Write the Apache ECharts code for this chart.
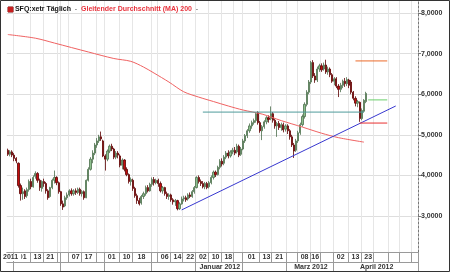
<!DOCTYPE html>
<html><head><meta charset="utf-8">
<script src="https://cdn.jsdelivr.net/npm/echarts@6/dist/echarts.min.js"></script>
<style>html,body{margin:0;padding:0;background:#fff}#c{width:450px;height:272px}</style>
</head><body><div id="c"></div>
<script>
// trading days per month (Xetra)
const monthDays = [
  ['2011-08', [29,30,31]],
  ['2011-09', [1,2,5,6,7,8,9,12,13,14,15,16,19,20,21,22,23,26,27,28,29,30]],
  ['2011-10', [3,4,5,6,7,10,11,12,13,14,17,18,19,20,21,24,25,26,27,28,31]],
  ['2011-11', [1,2,3,4,7,8,9,10,11,14,15,16,17,18,21,22,23,24,25,28,29,30]],
  ['2011-12', [1,2,5,6,7,8,9,12,13,14,15,16,19,20,21,22,23,27,28,29,30]],
  ['2012-01', [2,3,4,5,6,9,10,11,12,13,16,17,18,19,20,23,24,25,26,27,30,31]],
  ['2012-02', [1,2,3,6,7,8,9,10,13,14,15,16,17,20,21,22,23,24,27,28,29]],
  ['2012-03', [1,2,5,6,7,8,9,12,13,14,15,16,19,20,21,22,23,26,27,28,29,30]],
  ['2012-04', [2,3,4,5,10,11,12,13,16,17,18,19,20,23,24,25,26,27,30]],
  ['2012-05', [2,3,4,7,8,9,10,11,14,15,16,17,18,21,22,23,24,25,28,29,30]]
];
const dates = [];
monthDays.forEach(([m, ds]) => ds.forEach(d => dates.push(m + '-' + String(d).padStart(2, '0'))));

// candles: [open, close, low, high]
const candles = [
[4.62,4.52,4.48,4.66],[4.52,4.58,4.47,4.62],[4.58,4.50,4.45,4.62],[4.50,4.42,4.35,4.55],[4.42,4.36,4.30,4.45],
[4.30,3.75,3.70,4.32],[3.75,3.55,3.38,3.80],[3.55,3.60,3.40,3.70],[3.62,3.48,3.42,3.66],[3.50,3.65,3.45,3.70],
[3.65,3.85,3.60,3.90],[3.85,3.72,3.66,3.92],[3.72,3.95,3.70,4.00],[3.98,4.05,3.92,4.10],[4.05,3.88,3.82,4.08],
[3.88,3.70,3.62,3.92],[3.68,3.85,3.60,3.88],[3.85,3.80,3.72,3.92],[3.80,3.62,3.55,3.84],[3.62,3.45,3.40,3.66],
[3.48,3.70,3.45,3.72],[3.70,3.88,3.66,3.92],[3.88,3.95,3.80,4.12],[3.95,3.82,3.76,3.98],[3.82,3.60,3.55,3.85],
[3.60,3.30,3.25,3.62],[3.30,3.22,3.15,3.38],[3.25,3.45,3.22,3.50],[3.45,3.52,3.40,3.58],[3.52,3.62,3.48,3.66],
[3.62,3.55,3.50,3.68],[3.55,3.62,3.50,3.66],[3.62,3.58,3.52,3.68],[3.58,3.66,3.54,3.70],[3.66,3.55,3.50,3.70],
[3.55,3.60,3.48,3.64],[3.60,3.45,3.40,3.63],[3.45,3.88,3.44,3.90],[3.88,4.15,3.85,4.20],[4.15,4.40,4.12,4.45],
[4.40,4.55,4.30,4.62],[4.55,4.75,4.50,4.80],[4.75,4.85,4.68,4.92],[4.85,4.95,4.80,5.00],[4.95,4.90,4.85,5.08],
[4.85,4.48,4.45,4.88],[4.48,4.40,4.12,4.52],[4.40,4.60,4.35,4.64],[4.60,4.72,4.55,4.76],[4.72,4.65,4.60,4.78],
[4.65,4.45,4.40,4.68],[4.45,4.55,4.40,4.60],[4.55,4.50,4.42,4.60],[4.48,4.25,4.20,4.52],[4.25,4.38,4.15,4.42],
[4.38,4.15,4.10,4.40],[4.15,4.02,3.98,4.20],[4.02,3.85,3.80,4.05],[3.85,3.90,3.75,3.95],[3.88,3.68,3.62,3.92],
[3.68,3.50,3.45,3.72],[3.50,3.38,3.30,3.55],[3.38,3.30,3.26,3.45],[3.32,3.48,3.28,3.52],[3.48,3.55,3.42,3.60],
[3.55,3.70,3.50,3.75],[3.70,3.62,3.58,3.76],[3.62,3.78,3.60,3.82],[3.78,3.90,3.72,3.95],[3.90,3.82,3.75,3.96],
[3.82,3.88,3.78,3.92],[3.88,3.80,3.72,3.92],[3.80,3.62,3.58,3.85],[3.62,3.70,3.55,3.74],[3.70,3.55,3.50,3.72],
[3.55,3.48,3.42,3.60],[3.48,3.52,3.40,3.56],[3.52,3.40,3.35,3.55],[3.40,3.35,3.28,3.44],[3.35,3.38,3.25,3.42],
[3.38,3.18,3.14,3.40],[3.18,3.30,3.15,3.34],[3.30,3.42,3.28,3.48],[3.42,3.45,3.36,3.50],[3.45,3.40,3.35,3.50],
[3.42,3.52,3.38,3.56],[3.52,3.48,3.44,3.58],[3.48,3.60,3.45,3.64],[3.60,3.70,3.55,3.74],[3.70,3.95,3.68,3.98],
[3.95,3.85,3.80,4.00],[3.85,3.80,3.74,3.90],[3.80,3.72,3.68,3.86],[3.72,3.80,3.66,3.84],[3.80,3.70,3.66,3.84],
[3.72,3.82,3.68,3.86],[3.82,3.95,3.78,4.00],[3.95,4.08,3.90,4.12],[4.08,4.02,3.96,4.12],[4.02,4.20,4.00,4.24],
[4.20,4.35,4.15,4.40],[4.35,4.28,4.22,4.42],[4.30,4.45,4.25,4.50],[4.45,4.55,4.40,4.60],[4.55,4.48,4.42,4.62],
[4.48,4.58,4.44,4.62],[4.58,4.62,4.52,4.68],[4.62,4.55,4.50,4.70],[4.58,4.72,4.54,4.78],[4.72,4.50,4.45,4.76],
[4.52,4.65,4.48,4.70],[4.65,4.85,4.62,4.90],[4.85,4.98,4.80,5.02],[4.98,5.10,4.92,5.14],[5.10,5.22,5.05,5.28],
[5.22,5.30,5.15,5.35],[5.30,5.35,5.25,5.40],[5.35,5.52,5.30,5.56],[5.55,5.30,5.25,5.58],[5.30,5.10,5.05,5.34],
[5.10,5.20,4.87,5.24],[5.20,5.32,5.15,5.36],[5.32,5.42,5.26,5.46],[5.42,5.38,5.30,5.48],[5.40,5.52,5.36,5.70],
[5.52,5.36,5.30,5.56],[5.36,5.22,5.15,5.40],[5.22,5.28,4.95,5.32],[5.28,5.18,5.12,5.34],[5.18,5.25,5.10,5.30],
[5.25,5.12,5.06,5.30],[5.14,5.22,5.08,5.26],[5.22,5.10,5.02,5.26],[5.10,4.95,4.88,5.14],[4.95,4.75,4.70,5.00],
[4.75,4.60,4.43,4.80],[4.62,4.85,4.58,4.90],[4.85,5.05,4.80,5.10],[5.05,5.25,5.00,5.30],[5.25,5.45,5.20,5.50],
[5.45,5.75,5.40,5.80],[5.75,6.05,5.70,6.10],[6.05,6.30,6.00,6.35],[6.30,6.78,6.25,6.82],[6.78,6.45,6.40,6.84],
[6.45,6.35,6.28,6.52],[6.35,6.62,6.30,6.68],[6.62,6.70,6.55,6.75],[6.70,6.60,6.55,6.76],[6.62,6.72,6.58,6.78],
[6.72,6.55,6.50,6.85],[6.55,6.62,6.48,6.68],[6.62,6.48,6.42,6.66],[6.48,6.32,6.28,6.52],[6.32,6.38,6.22,6.42],
[6.38,6.20,6.15,6.42],[6.20,6.12,5.93,6.25],[6.12,6.22,6.05,6.28],[6.22,6.32,6.15,6.36],[6.32,6.26,6.18,6.40],
[6.26,6.36,6.20,6.42],[6.35,6.22,6.15,6.38],[6.30,6.05,6.00,6.35],[6.05,5.90,5.85,6.08],[5.90,5.78,5.70,5.95],
[5.78,5.82,5.68,5.86],[5.80,5.40,5.32,5.82],[5.40,5.60,5.36,5.65],[5.58,5.85,5.55,5.88],[5.82,6.02,5.78,6.06]
];

// 200-day moving average readings [date, value]
const maPoints = [
 ['2011-08-29',7.47],['2011-09-15',7.38],['2011-09-28',7.26],['2011-10-20',7.04],['2011-11-07',6.88],
 ['2011-11-17',6.81],['2011-11-25',6.67],['2011-12-02',6.52],['2011-12-13',6.30],['2011-12-22',6.06],
 ['2012-01-03',5.93],['2012-01-12',5.82],['2012-01-23',5.71],['2012-02-01',5.61],['2012-02-14',5.51],
 ['2012-02-27',5.35],['2012-03-12',5.19],['2012-03-23',5.04],['2012-04-04',4.93],['2012-04-24',4.82]
];
// drawn lines [[date, value],[date, value]]
const resistanceLine = [['2012-01-05',5.56],['2012-04-24',5.56]];
const trendLine = [['2011-12-21',3.15],['2012-05-16',5.71]];
const orangeLine = [['2012-04-18',6.82],['2012-05-10',6.82]];
const greenLine = [['2012-04-26',5.86],['2012-05-10',5.86]];
const redLine = [['2012-04-20',5.29],['2012-05-10',5.29]];

// axis tick labels
const yTicks = [3,4,5,6,7,8];
const dayTickDates = ['2011-09-01','2011-09-13','2011-09-21','2011-09-30','2011-10-03','2011-10-07','2011-10-17','2011-10-26',
 '2011-11-01','2011-11-10','2011-11-18','2011-12-01','2011-12-06','2011-12-14','2011-12-22',
 '2012-01-02','2012-01-10','2012-01-18','2012-01-26','2012-02-01','2012-02-13','2012-02-21',
 '2012-03-01','2012-03-08','2012-03-16','2012-03-23','2012-04-02','2012-04-13','2012-04-23',
 '2012-05-02','2012-05-11','2012-05-18','2012-05-28'];
const dayLabelDates = ['2011-09-01','2011-09-13','2011-09-21','2011-10-07','2011-10-17','2011-11-01','2011-11-10','2011-11-18',
 '2011-12-06','2011-12-14','2011-12-22','2012-01-02','2012-01-10','2012-01-18','2012-02-01','2012-02-13','2012-02-21',
 '2012-03-08','2012-03-16','2012-04-02','2012-04-13','2012-04-23'];
const monthTickDates = ['2011-09-01','2011-10-03','2011-11-01','2011-12-01','2012-01-02','2012-02-01','2012-03-01','2012-04-02'];
const monthLabels = [['2012-01-02','Januar 2012'],['2012-03-01','Marz 2012'],['2012-04-02','April 2012']];
const yearLabel = '2011';

const N = dates.length;
const idx = d => dates.indexOf(d);
const dayTickIdx = dayTickDates.map(idx);
const dayTickSet = new Set(dayTickIdx);
const dayLabelMap = {};
dayLabelDates.forEach(d => {
  const a = idx(d);
  const k = dayTickIdx.indexOf(a);
  const b = k + 1 < dayTickIdx.length ? dayTickIdx[k + 1] : N;
  dayLabelMap[Math.round((a + b - 1) / 2)] = d.slice(8);
});
const monthTickIdx = monthTickDates.map(idx);
const monthTickSet = new Set(monthTickIdx);
const monthLabelMap = {};
monthLabels.forEach(([d, t]) => {
  const a = idx(d);
  const k = monthTickIdx.indexOf(a);
  const b = k + 1 < monthTickIdx.length ? monthTickIdx[k + 1] : N;
  monthLabelMap[Math.round((a + b - 1) / 2)] = t;
});

const maData = maPoints.map(p => [p[0], p[1]]);
const FONT = 'Liberation Sans, Arial, sans-serif';
const chart = echarts.init(document.getElementById('c'), null, {renderer: 'canvas'});
const lineSeries = (data, color) => ({type: 'line', data, symbol: 'none', silent: true,
  lineStyle: {color, width: 1}, z: 4});

chart.setOption({
  animation: false,
  backgroundColor: '#fff',
  title: {
    left: 3, top: 1,
    text: '{i|}{a| SFQ:xetr Täglich}{d|  -  }{b|Gleitender Durchschnitt (MA) 200}{d|  -}',
    textStyle: {
      fontSize: 7, fontFamily: FONT,
      rich: {
        i: {width: 5, height: 5, backgroundColor: '#c81e1e', borderColor: '#7a0000', borderWidth: 0.5},
        a: {fontSize: 7, fontWeight: 'bold', color: '#111', fontFamily: FONT},
        d: {fontSize: 7, fontWeight: 'bold', color: '#999', fontFamily: FONT},
        b: {fontSize: 7, fontWeight: 'bold', color: '#e8323c', fontFamily: FONT}
      }
    }
  },
  grid: {left: 1, right: 32, top: 1, bottom: 20},
  xAxis: [{
    type: 'category', data: dates, boundaryGap: true, position: 'bottom',
    axisLine: {show: true, lineStyle: {color: '#9a9a9a', width: 1}},
    axisTick: {show: true, length: 10, interval: i => dayTickSet.has(i), lineStyle: {color: '#9a9a9a'}},
    splitLine: {show: true, interval: i => dayTickSet.has(i), lineStyle: {color: '#e6e6e6', width: 1}},
    axisLabel: {interval: i => (i in dayLabelMap), formatter: (v, i) => dayLabelMap[i] || '',
      margin: 2, fontSize: 7, fontWeight: 'bold', color: '#333', fontFamily: FONT, align: 'center'}
  }, {
    type: 'category', data: dates, boundaryGap: true, position: 'bottom', offset: 10,
    axisLine: {show: true, lineStyle: {color: '#9a9a9a', width: 1}},
    axisTick: {show: true, length: 10, interval: i => monthTickSet.has(i), lineStyle: {color: '#9a9a9a'}},
    splitLine: {show: false},
    axisLabel: {interval: i => (i in monthLabelMap), formatter: (v, i) => monthLabelMap[i] || '',
      margin: 2, fontSize: 7, fontWeight: 'bold', color: '#333', fontFamily: FONT, align: 'center'}
  }, {
    type: 'category', data: dates, boundaryGap: true, position: 'bottom', offset: 0,
    axisLine: {show: false}, axisTick: {show: false}, splitLine: {show: false},
    axisLabel: {interval: i => i === 2, formatter: () => yearLabel,
      margin: 2, fontSize: 7, fontWeight: 'bold', color: '#333', fontFamily: FONT,
      backgroundColor: '#fff', padding: [0, 3, 0, 0]}
  }],
  yAxis: {
    type: 'value', position: 'right', min: 2.114, max: 8.296, scale: true,
    axisLine: {show: true, lineStyle: {color: '#777', type: [2, 2]}},
    axisTick: {show: true, length: 3, customValues: yTicks, lineStyle: {color: '#777'}},
    splitLine: {show: true, lineStyle: {color: '#dedede'}},
    axisLabel: {customValues: yTicks, margin: 3, fontSize: 7, fontWeight: 'bold', color: '#333', fontFamily: FONT,
      formatter: v => v.toFixed(4).replace('.', ',')}
  },
  series: [
    {type: 'candlestick', data: candles, barWidth: 1.7, silent: true, z: 3,
     itemStyle: {color: '#8dc08d', color0: '#c40d0d', borderColor: '#4d6f4d', borderColor0: '#5a0000', borderWidth: 0.8}},
    Object.assign(lineSeries(maData, '#f06262'), {connectNulls: true, smooth: 0.3}),
    lineSeries(resistanceLine, '#4f9c9c'),
    lineSeries(trendLine, '#3838d0'),
    lineSeries(orangeLine, '#ec6a2a'),
    lineSeries(greenLine, '#6ccf6c'),
    lineSeries(redLine, '#e83030')
  ],
  graphic: [
    {type: 'line', shape: {x1: 418.5, y1: 252, x2: 418.5, y2: 272}, style: {stroke: '#9a9a9a', lineWidth: 1}, z: 10},
    {type: 'rect', shape: {x: 0.5, y: 0.5, width: 449, height: 271}, style: {fill: 'none', stroke: '#333', lineWidth: 1}, z: 10}
  ]
});
</script></body></html>
